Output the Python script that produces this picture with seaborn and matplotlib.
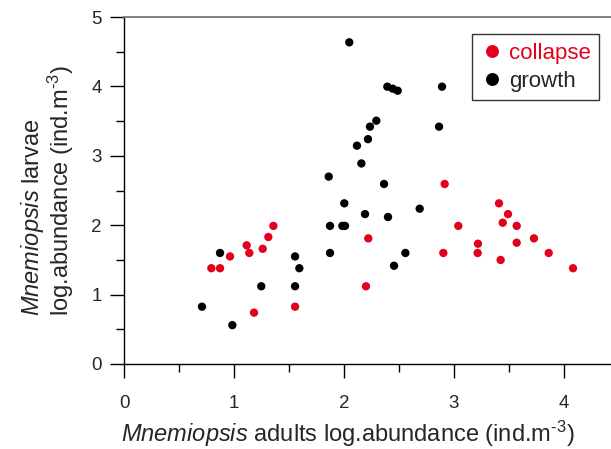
import numpy as np
import pandas as pd
import matplotlib
matplotlib.use("Agg")
import matplotlib.pyplot as plt
import seaborn as sns

# ---- data ----
growth_x = [2.048, 2.394, 2.443, 2.488, 2.891, 2.294, 2.236, 2.218, 2.118, 2.158,
            2.864, 1.861, 2.364, 2.003, 2.191, 2.688, 2.400, 1.873, 1.985, 2.009,
            1.873, 2.558, 2.455, 1.594, 1.555, 1.555, 1.248, 0.873, 0.709, 0.985]
growth_y = [4.635, 3.996, 3.967, 3.938, 3.996, 3.506, 3.420, 3.240, 3.146, 2.890,
            3.420, 2.700, 2.594, 2.315, 2.160, 2.238, 2.118, 1.990, 1.990, 1.990,
            1.600, 1.600, 1.416, 1.380, 1.550, 1.120, 1.120, 1.600, 0.826, 0.560]
collapse_x = [1.358, 1.312, 1.115, 1.139, 1.261, 0.964, 0.794, 0.873, 1.182, 1.555,
              2.221, 2.200, 2.915, 3.039, 2.903, 3.218, 3.215, 3.409, 3.491, 3.443,
              3.570, 3.570, 3.424, 3.727, 3.861, 4.082]
collapse_y = [1.990, 1.830, 1.710, 1.600, 1.660, 1.550, 1.380, 1.380, 0.740, 0.826,
              1.810, 1.120, 2.594, 1.990, 1.600, 1.733, 1.600, 2.315, 2.160, 2.036,
              1.990, 1.748, 1.499, 1.810, 1.600, 1.380]
groups = ["collapse", "growth"]
x_ticks = [0, 1, 2, 3, 4]
y_ticks = [0, 1, 2, 3, 4, 5]

df = pd.DataFrame({
    "adults": collapse_x + growth_x,
    "larvae": collapse_y + growth_y,
    "phase": [groups[0]] * len(collapse_x) + [groups[1]] * len(growth_x),
})

sns.set_style("white")
plt.rcParams["font.family"] = ["Liberation Sans", "DejaVu Sans"]
plt.rcParams["mathtext.fontset"] = "custom"
plt.rcParams["mathtext.rm"] = "Liberation Sans"
plt.rcParams["mathtext.it"] = "Liberation Sans:italic"

RED = "#E3001B"
fig = plt.figure(figsize=(6.11, 4.49), dpi=100)
ax = fig.add_axes([124 / 611, 1 - 364 / 449, 495 / 611, 347 / 449])

sns.scatterplot(data=df, x="adults", y="larvae", hue="phase",
                palette={"collapse": RED, "growth": "black"},
                hue_order=groups, s=36, edgecolor="none", linewidth=0, ax=ax)

ax.set_xlim(0, 4.5)
ax.set_ylim(0, 5)
ax.set_xticks(x_ticks)
ax.set_yticks(y_ticks)
ax.set_xticks(np.arange(0.5, 4.5, 1.0), minor=True)
ax.set_yticks(np.arange(0.5, 5.0, 1.0), minor=True)
ax.tick_params(axis="both", which="major", direction="out", length=10, width=1,
               color="black", labelsize=13.5)
ax.tick_params(axis="x", which="major", pad=12)
ax.tick_params(axis="y", which="major", pad=6)
ax.tick_params(axis="both", which="minor", direction="out", length=6, width=1, color="black")
ax.tick_params(axis="y", which="both", left=True)
ax.tick_params(axis="x", which="both", bottom=True)

for side in ["left", "bottom"]:
    ax.spines[side].set_color("black")
    ax.spines[side].set_linewidth(1)
ax.spines["top"].set_color("#777777")
ax.spines["top"].set_linewidth(1.3)
ax.spines["right"].set_visible(False)

ax.set_ylabel("$\\it{Mnemiopsis}$ larvae\nlog.abundance (ind.m$^{\\text{-3}}$)",
              fontsize=17, linespacing=1.0, labelpad=11, multialignment="left")
ax.set_xlabel("$\\it{Mnemiopsis}$ adults log.abundance (ind.m$^{\\text{-3}}$)",
              fontsize=17, ha="left")
ax.xaxis.set_label_coords(-0.006, -0.157)

leg = ax.legend(loc="upper left", bbox_to_anchor=((472 - 124) / 495, (364 - 34) / 347),
                borderaxespad=0, frameon=True, fancybox=False, edgecolor="black",
                fontsize=16, markerscale=1.55, handletextpad=0.25, handlelength=1.0,
                labelspacing=0.3, borderpad=0.4, title=None)
leg.get_frame().set_linewidth(1.0)
for txt in leg.get_texts():
    if txt.get_text() == "collapse":
        txt.set_color(RED)

fig.savefig("out.png", dpi=100)
